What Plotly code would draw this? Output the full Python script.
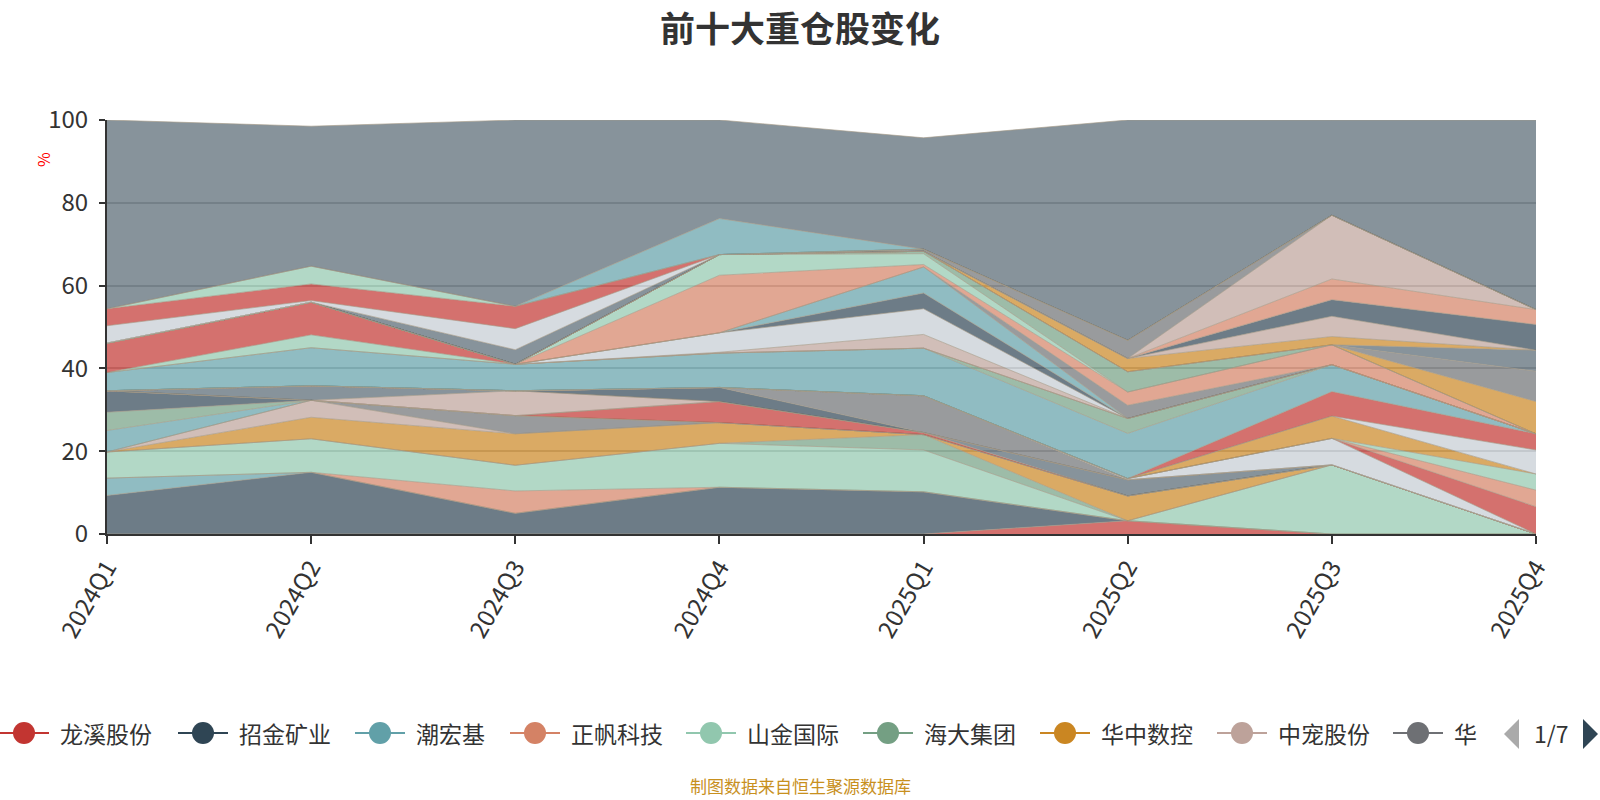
import plotly.graph_objects as go

quarters = ["2024Q1", "2024Q2", "2024Q3", "2024Q4", "2025Q1", "2025Q2", "2025Q3", "2025Q4"]

legend_names = ["龙溪股份", "招金矿业", "潮宏基", "正帆科技", "山金国际", "海大集团", "华中数控", "中宠股份", "华"]
legend_colors = ["R", "D", "T", "S", "G", "DG", "O", "N", "Y"]

# stacking order bottom -> top; colour keys of each series
series_colors = [
    "R", "D", "T", "S", "G", "DG", "O", "N", "Y",
    "T", "DG", "D", "R", "L", "N", "L", "D", "Y", "W",
    "R", "S", "G", "O", "W", "R", "T", "DG", "G", "R",
    "N", "W", "D", "T", "Y", "S", "G", "DG", "O", "Y",
    "L", "O", "N", "D", "S", "N", "Y", "L", "W", "R",
    "G", "T", "L",
]
series_values = [
    [0, 0, 0, 0, 0, 3.2, 0, 0],
    [9.3, 14.9, 5.0, 11.3, 10.2, 0, 0, 0],
    [4.2, 0, 0, 0, 0, 0, 0, 0],
    [0, 0, 5.4, 0, 0, 0, 0, 0],
    [6.3, 8.1, 6.2, 10.6, 10.1, 0, 16.7, 0],
    [0, 0, 0, 0, 3.7, 0, 0, 0],
    [0, 5.2, 7.6, 5.0, 0, 6.0, 0, 0],
    [0, 4.1, 0, 0, 0, 0, 0, 0],
    [0, 0, 4.4, 0, 0, 0, 0, 0],
    [5.2, 0, 0, 0, 0, 0, 0, 0],
    [4.4, 0, 0, 0, 0, 0, 0, 0],
    [5.2, 0, 0, 0, 0, 0, 0, 0],
    [0, 0, 0, 5.1, 0.5, 0, 0, 0],
    [0, 0, 0, 0, 0, 3.9, 0, 0],
    [0, 0, 6.0, 0, 0, 0, 0, 0],
    [0, 3.5, 0, 0, 0, 0, 0, 0],
    [0, 0, 0, 3.4, 0, 0, 0, 0],
    [0, 0, 0, 0, 8.9, 0, 0, 0],
    [0, 0, 0, 0, 0, 0.3, 6.4, 0],
    [0, 0, 0, 0, 0, 0, 0, 6.6],
    [0, 0, 0, 0, 0, 0, 0, 4.0],
    [0, 0, 0, 0, 0, 0, 0, 3.9],
    [0, 0, 0, 0, 0, 0, 5.4, 0],
    [0, 0, 0, 0, 0, 0, 0, 5.8],
    [0, 0, 0, 0, 0, 0, 5.9, 3.9],
    [4.4, 9.2, 6.4, 8.3, 11.5, 10.9, 6.5, 0],
    [0, 0, 0, 0, 0, 3.6, 0, 0],
    [0, 3.1, 0, 0, 0, 0, 0, 0],
    [7.1, 7.9, 0, 0, 0, 0, 0, 0],
    [0, 0, 0, 0.2, 3.3, 0, 0, 0],
    [0, 0, 0, 4.7, 6.2, 0, 0, 0],
    [0, 0, 0, 0, 3.8, 0, 0, 0],
    [0, 0, 0, 0, 6.3, 0, 0, 0],
    [0, 0, 0, 0, 0, 3.2, 0, 0],
    [0, 0, 0, 13.9, 0.6, 3.2, 4.8, 0],
    [0, 0, 0, 5.0, 2.6, 0, 0, 0],
    [0, 0, 0, 0, 0.6, 4.9, 0, 0],
    [0, 0, 0, 0, 0, 0, 0, 7.8],
    [0, 0, 0, 0, 0, 0, 0, 7.3],
    [0, 0, 0, 0, 0, 0, 0, 5.1],
    [0, 0, 0, 0, 0, 3.2, 2.0, 0],
    [0, 0, 0, 0, 0, 0, 4.9, 0],
    [0, 0, 0, 0, 0, 0, 4.0, 6.2],
    [0, 0, 0, 0, 0, 0, 5.0, 3.6],
    [0, 0, 0, 0, 0, 0, 15.4, 0],
    [0, 0, 0, 0, 0.5, 4.4, 0, 0],
    [0, 0, 3.5, 0, 0, 0, 0, 0],
    [4.2, 0.4, 5.1, 0, 0, 0, 0, 0],
    [4.1, 4.0, 5.4, 0, 0, 0, 0, 0],
    [0, 4.3, 0, 0, 0, 0, 0, 0],
    [0, 0, 0, 8.7, 0, 0, 0, 0],
    [45.6, 33.8, 45.0, 23.8, 26.9, 53.2, 23.0, 45.8],
]

palette = {
    "R": "#c23531", "D": "#2f4554", "T": "#61a0a8", "S": "#d48265", "G": "#91c7ae",
    "DG": "#749f83", "O": "#ca8622", "N": "#bda29a", "Y": "#6e7074", "L": "#546570",
    "W": "#c4ccd3",
}


def rgba(hexc, a):
    h = hexc.lstrip("#")
    r, g, b = int(h[0:2], 16), int(h[2:4], 16), int(h[4:6], 16)
    return f"rgba({r},{g},{b},{a})"


FONT = "Noto Sans CJK SC"
W, H = 1600, 800
X0, X1, Y0, Y1 = 107, 1536, 534, 120


def pxx(px):
    return (px - X0) / (X1 - X0)


def pxy(py):
    return (Y0 - py) / (Y0 - Y1)


fig = go.Figure()
for i, (ck, vals) in enumerate(zip(series_colors, series_values)):
    name = legend_names[i] if i < len(legend_names) else ""
    fig.add_trace(go.Scatter(
        x=quarters, y=vals, name=name, mode="lines", stackgroup="one",
        fillcolor=rgba(palette[ck], 0.7),
        line=dict(width=0.8, color="rgba(165,155,135,0.8)"),
        showlegend=False, hoverinfo="skip",
    ))

shapes = []
annotations = []

# title
annotations.append(dict(text="<b>前十大重仓股变化</b>", x=pxx(800), y=pxy(27), xref="paper", yref="paper",
                        showarrow=False, xanchor="center", yanchor="middle",
                        font=dict(size=35, color="#333", family=FONT)))
# y axis name
annotations.append(dict(text="%", x=pxx(43), y=pxy(160), xref="paper", yref="paper", textangle=-90,
                        showarrow=False, xanchor="center", yanchor="middle",
                        font=dict(size=16, color="red", family=FONT)))
# source
annotations.append(dict(text="制图数据来自恒生聚源数据库", x=pxx(800), y=pxy(785), xref="paper", yref="paper",
                        showarrow=False, xanchor="center", yanchor="middle",
                        font=dict(size=17, color="#c8901e", family=FONT)))

# manual legend
marker_px = [24, 203, 380, 535, 711, 888, 1065, 1242, 1418]
ly = 733
for mx, nm, ck in zip(marker_px, legend_names, legend_colors):
    col = palette[ck]
    shapes.append(dict(type="line", xref="paper", yref="paper", x0=pxx(mx - 25), x1=pxx(mx + 25),
                       y0=pxy(ly), y1=pxy(ly), line=dict(color=col, width=2)))
    shapes.append(dict(type="circle", xref="paper", yref="paper", x0=pxx(mx - 11), x1=pxx(mx + 11),
                       y0=pxy(ly - 11), y1=pxy(ly + 11), fillcolor=col, line=dict(width=0)))
    annotations.append(dict(text=nm, x=pxx(mx + 34), y=pxy(ly), xref="paper", yref="paper",
                            showarrow=False, xanchor="left", yanchor="middle",
                            font=dict(size=23, color="#333", family=FONT)))

# pager
def tri(points, color):
    p = "M " + " L ".join(f"{pxx(a)},{pxy(b)}" for a, b in points) + " Z"
    return dict(type="path", xref="paper", yref="paper", path=p, fillcolor=color, line=dict(width=0))

shapes.append(tri([(1519, 719), (1519, 749), (1504, 734)], "#aaaaaa"))
shapes.append(tri([(1583, 719), (1583, 749), (1598, 734)], "#2f4554"))
annotations.append(dict(text="1/7", x=pxx(1551), y=pxy(733), xref="paper", yref="paper",
                        showarrow=False, xanchor="center", yanchor="middle",
                        font=dict(size=23, color="#333", family=FONT)))

fig.update_layout(
    template="none",
    width=W, height=H,
    margin=dict(l=X0, r=W - X1, t=Y1, b=H - Y0, pad=0),
    paper_bgcolor="white", plot_bgcolor="white",
    showlegend=False,
    font=dict(family=FONT, color="#333"),
    shapes=shapes, annotations=annotations,
    xaxis=dict(type="category", range=[0, 7], showline=True, linecolor="#333", linewidth=2,
               ticks="outside", ticklen=8, tickwidth=2, tickcolor="#333", tickangle=-60,
               tickfont=dict(size=24, color="#333", family=FONT), showgrid=False,
               zeroline=False, automargin=False),
    yaxis=dict(range=[0, 100], tick0=0, dtick=20, showline=True, linecolor="#333", linewidth=2,
               ticks="outside", ticklen=6, tickwidth=2, tickcolor="#333",
               tickfont=dict(size=24, color="#333", family=FONT), showgrid=True,
               gridcolor="#c0c0c0", gridwidth=1.5, zeroline=False, automargin=False,
               ticklabelstandoff=6),
)

fig.write_html("out.html")
